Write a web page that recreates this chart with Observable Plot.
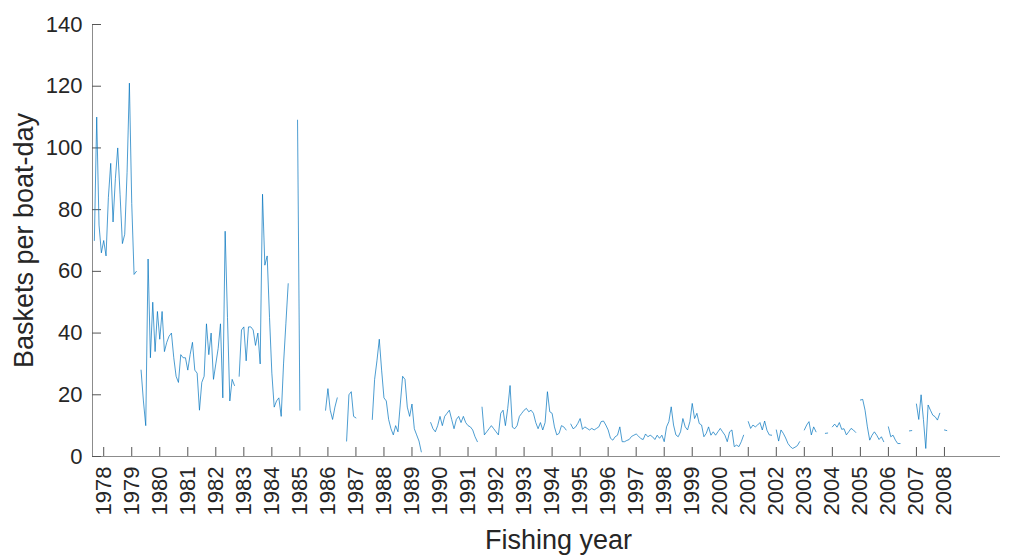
<!DOCTYPE html>
<html>
<head>
<meta charset="utf-8">
<script src="https://cdn.jsdelivr.net/npm/d3@7"></script>
<script src="https://cdn.jsdelivr.net/npm/@observablehq/plot@0.6"></script>
<style>
  html, body { margin: 0; padding: 0; background: #fff; }
  #chart svg { display: block; }
</style>
</head>
<body>
<div id="chart"></div>
<script>
// Monthly catch rate, first value = September 1977; null = no fishing that month.
const startYear = 1977;
const startMonth = 9;
const basketsPerBoatDay = [
  70, 110, 75, 66, 70, 65, 84, 95, 76, 90, 100, 85,
  69, 72, 92, 121, 82, 59, 60, null, 28, 18, 10, 64,
  32, 50, 34, 47, 38, 47, 34, 37, 39, 40, 32, 26,
  24, 33, 32, 32, 28, 33, 37, 28, 27, 15, 24, 26,
  43, 33, 40, 25, 30, 35, 43, 19, 73, 45, 18, 25,
  23, null, 26, 41, 42, 31, 42, 42, 41, 36, 40, 30,
  85, 62, 65, 45, 27, 16, 18, 19, 13, 30, 43, 56,
  null, null, null, 109, 15, null, null, null, null, null, null, null,
  null, null, null, 15, 22, 15, 12, 16, 19, null, null, null,
  5, 20, 21, 13, 12.5, null, null, null, null, null, null, 12,
  25, 31, 38, 28, 19, 18, 12, 9, 7, 10, 8, 17,
  26, 25, 16, 13, 17, 9, 7, 5, 1.5, null, null, null,
  11, 9, 8, 10, 13, 10, 13, 14, 15, 12, 9, 12,
  13, 11, 13, 11, 10, 9.6, 8.6, 6.4, 4.8, null, 16, 7,
  8, 9, 10, 9, 8, 7, 14, 15, 10, 15.6, 23, 9.5,
  9, 10, 13, 14, 15, 15.6, 14.5, 15, 14, 11, 9, 11,
  8.6, 11, 21, 14.5, 14, 9.6, 7, 7.5, 10, 9.6, 8.6, null,
  10.5, 9, 9.5, 10.7, 12.3, 8.8, 9.6, 9.1, 8.6, 9.1, 8.6, 9.1,
  9.6, 11.3, 11.5, 10.2, 8.6, 5.9, 5.3, 6.4, 6.9, 9.6, 4.8, 4.8,
  5.2, 5.5, 6.5, 6.9, 7.3, 6.6, 5.8, 5.5, 7.3, 6.4, 6.9, 6.4,
  5.5, 6.9, 5.9, 6.9, 4.8, 9.6, 11.3, 16.1, 10.2, 7, 6.4, 8,
  12.3, 9.6, 8.6, 11.3, 17.2, 12.3, 14, 10.7, 10.2, 6.4, 7.5, 9.6,
  6.9, 8, 6.9, 8, 9.1, 8, 6.9, 4.8, 8, 8.6, 3.2, 3.7,
  3.2, 4.8, 6.9, null, 11.3, 9.1, 10.2, 9.6, 10.2, 11, 8.6, 11.5,
  8.5, 7, 6.9, null, 8.6, 5, 8.6, 7.5, 6, 4.2, 3.2, 2.6,
  3, 3.5, 4.8, null, 8.6, 10.2, 11.3, 7, 9.6, 8, null, null,
  null, 7.5, 7.6, null, 9.6, 10.5, 9.5, 11, 8.8, 9, 7, 8,
  9.1, 8.6, 7.8, null, 18.3, 18.5, 15, 9.6, 5.3, 6.9, 8, 6.9,
  5.5, 6.4, 4.8, null, 9.6, 6.4, 6.9, 5.3, 4.2, 4.2, null, null,
  null, 8.3, 8.4, null, 17, 12, 20, 12, 2.6, 16.7, 15, 13.4,
  12.9, 11.8, 14, null, 8.6, 8.4
];

const yearTicks = d3.range(1978, 2009);
const valueTicks = d3.range(0, 141, 20);
const xLabel = "Fishing year";
const yLabel = "Baskets per boat-day";

const series = basketsPerBoatDay.map((v, i) => ({
  t: startYear + (startMonth - 1 + i) / 12,
  v
}));

const width = 1011, height = 555;
const margin = {top: 24, right: 11, bottom: 99, left: 92};
const innerW = width - margin.left - margin.right;
const innerH = height - margin.top - margin.bottom;
const tickLen = 9;
const ink = "#262626";
const xDomain = [1977.6, 2010];

const chart = Plot.plot({
  width, height,
  marginTop: margin.top, marginRight: margin.right,
  marginBottom: margin.bottom, marginLeft: margin.left,
  style: {fontFamily: "'Liberation Sans', Arial, sans-serif", color: ink, background: "#fff", overflow: "visible"},
  x: {domain: xDomain},
  y: {domain: [0, 140]},
  marks: [
    // axis lines (left and bottom only)
    Plot.ruleY([0], {stroke: "#8c8c8c", strokeWidth: 1}),
    Plot.ruleX([xDomain[0]], {stroke: "#8c8c8c", strokeWidth: 1}),
    // inward-pointing ticks
    Plot.ruleX(yearTicks, {stroke: "#555", strokeWidth: 1, insetTop: innerH - tickLen}),
    Plot.ruleY(valueTicks, {stroke: "#555", strokeWidth: 1, insetRight: innerW - tickLen}),
    Plot.axisX({ticks: yearTicks, tickSize: 0, tickPadding: 10, tickRotate: -90,
                tickFormat: d => String(d), fontSize: 22, label: null, fill: ink}),
    Plot.axisY({ticks: valueTicks, tickSize: 0, tickPadding: 10,
                fontSize: 22, label: null, fill: ink}),
    Plot.lineY(series, {x: "t", y: "v", stroke: "#0072BD", strokeWidth: 0.7}),
    Plot.text([xLabel], {text: d => d, frameAnchor: "bottom", textAnchor: "middle",
                         lineAnchor: "middle", dy: 84, dx: 12, fontSize: 27, fill: ink}),
    Plot.text([yLabel], {text: d => d, frameAnchor: "left", textAnchor: "middle",
                         lineAnchor: "middle", rotate: -90, dx: -68, fontSize: 27, fill: ink})
  ]
});

document.getElementById("chart").append(chart);
</script>
</body>
</html>
